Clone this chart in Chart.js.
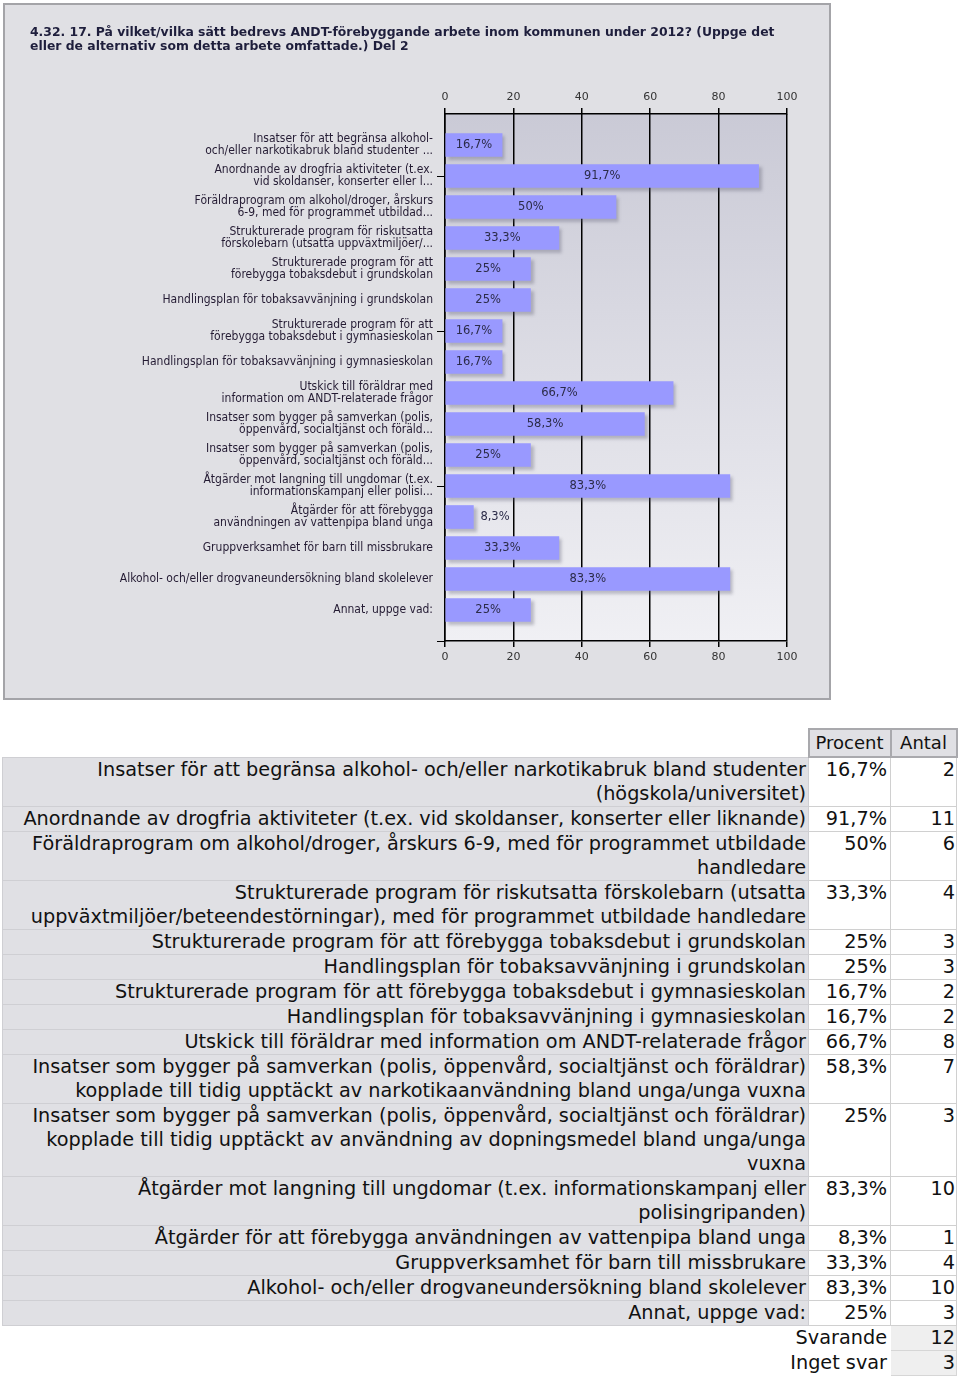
<!DOCTYPE html>
<html>
<head>
<meta charset="utf-8">
<title>ANDT-förebyggande arbete 2012, del 2</title>
<script src="https://cdn.jsdelivr.net/npm/chart.js@4.4.1/dist/chart.umd.min.js"></script>
<style>
    body { margin: 0; background: #fff; width: 960px; height: 1377px; position: relative; overflow: hidden; }
    #panel { position: absolute; left: 3px; top: 3px; width: 828px; height: 697px; box-sizing: border-box;
             border: 2px solid #a4a4a8; background: #e0e0e4; }
    #chart { display: block; }
    #tbl { position: absolute; left: 2px; top: 728px; width: 954px; table-layout: fixed;
           border-collapse: collapse;
           font-family: "DejaVu Sans", Verdana, sans-serif; font-size: 19.25px; line-height: 24px; color: #111; }
    #tbl td, #tbl th { padding: 0; white-space: nowrap; vertical-align: top; font-weight: normal; }
    #tbl th { background: #e0e0e4; border: 2px solid #a9a9ad; text-align: center; font-size: 18px; padding: 1px 0; }
    #tbl td.lab { background: #e0e0e4; border: 1px solid #cfcfd3; text-align: right; padding-right: 2px; }
    #tbl td.pct { background: #fff; border: 1px solid #d0d0d0; text-align: right; padding-right: 3px; }
    #tbl td.num { background: #fff; border: 1px solid #d0d0d0; text-align: right; padding-right: 1px; }
    #tbl td.foot { text-align: right; padding-right: 3px; border: 1px solid transparent; }
    #tbl td.fnum { background: #efefef; border: 1px solid #d6d6d6; text-align: right; padding-right: 1px; }
    #tbl td.blank { border: none; }
</style>
</head>
<body>
<div id="panel"><canvas id="chart" width="824" height="693"></canvas></div>
<table id="tbl"></table>

<script>
// Chart data
const titleLines = [
    '4.32. 17. På vilket/vilka sätt bedrevs ANDT-förebyggande arbete inom kommunen under 2012? (Uppge det',
    'eller de alternativ som detta arbete omfattade.) Del 2'
];

// Short labels as shown on the chart axis
const axisLabels = [
    ['Insatser för att begränsa alkohol-', 'och/eller narkotikabruk bland studenter ...'],
    ['Anordnande av drogfria aktiviteter (t.ex.', 'vid skoldanser, konserter eller l...'],
    ['Föräldraprogram om alkohol/droger, årskurs', '6-9, med för programmet utbildad...'],
    ['Strukturerade program för riskutsatta', 'förskolebarn (utsatta uppväxtmiljöer/...'],
    ['Strukturerade program för att', 'förebygga tobaksdebut i grundskolan'],
    'Handlingsplan för tobaksavvänjning i grundskolan',
    ['Strukturerade program för att', 'förebygga tobaksdebut i gymnasieskolan'],
    'Handlingsplan för tobaksavvänjning i gymnasieskolan',
    ['Utskick till föräldrar med', 'information om ANDT-relaterade frågor'],
    ['Insatser som bygger på samverkan (polis,', 'öppenvård, socialtjänst och föräld...'],
    ['Insatser som bygger på samverkan (polis,', 'öppenvård, socialtjänst och föräld...'],
    ['Åtgärder mot langning till ungdomar (t.ex.', 'informationskampanj eller polisi...'],
    ['Åtgärder för att förebygga', 'användningen av vattenpipa bland unga'],
    'Gruppverksamhet för barn till missbrukare',
    'Alkohol- och/eller drogvaneundersökning bland skolelever',
    'Annat, uppge vad:'
];

// Full labels for the table (line by line)
const tableLabels = [
    ['Insatser för att begränsa alkohol- och/eller narkotikabruk bland studenter', '(högskola/universitet)'],
    ['Anordnande av drogfria aktiviteter (t.ex. vid skoldanser, konserter eller liknande)'],
    ['Föräldraprogram om alkohol/droger, årskurs 6-9, med för programmet utbildade', 'handledare'],
    ['Strukturerade program för riskutsatta förskolebarn (utsatta', 'uppväxtmiljöer/beteendestörningar), med för programmet utbildade handledare'],
    ['Strukturerade program för att förebygga tobaksdebut i grundskolan'],
    ['Handlingsplan för tobaksavvänjning i grundskolan'],
    ['Strukturerade program för att förebygga tobaksdebut i gymnasieskolan'],
    ['Handlingsplan för tobaksavvänjning i gymnasieskolan'],
    ['Utskick till föräldrar med information om ANDT-relaterade frågor'],
    ['Insatser som bygger på samverkan (polis, öppenvård, socialtjänst och föräldrar)', 'kopplade till tidig upptäckt av narkotikaanvändning bland unga/unga vuxna'],
    ['Insatser som bygger på samverkan (polis, öppenvård, socialtjänst och föräldrar)', 'kopplade till tidig upptäckt av användning av dopningsmedel bland unga/unga', 'vuxna'],
    ['Åtgärder mot langning till ungdomar (t.ex. informationskampanj eller', 'polisingripanden)'],
    ['Åtgärder för att förebygga användningen av vattenpipa bland unga'],
    ['Gruppverksamhet för barn till missbrukare'],
    ['Alkohol- och/eller drogvaneundersökning bland skolelever'],
    ['Annat, uppge vad:']
];

const percentValues = [16.7, 91.7, 50, 33.3, 25, 25, 16.7, 16.7, 66.7, 58.3, 25, 83.3, 8.3, 33.3, 83.3, 25];
const counts = [2, 11, 6, 4, 3, 3, 2, 2, 8, 7, 3, 10, 1, 4, 10, 3];
const totalNames = ['Svarande', 'Inget svar'];
const totalCounts = [12, 3];

const xMin = 0, xMax = 100, xStep = 20;

const fmtPct = v => String(v).replace('.', ',') + '%';

// Plot background gradient
const plotBg = {
    id: 'plotBg',
    beforeDraw(chart) {
        const { ctx, chartArea: { left, top, right, bottom } } = chart;
        const g = ctx.createLinearGradient(0, top, 0, bottom);
        g.addColorStop(0, '#cacad6');
        g.addColorStop(1, '#f0f0f4');
        ctx.save();
        ctx.fillStyle = g;
        ctx.fillRect(left, top, right - left, bottom - top);
        ctx.restore();
    }
};

// Soft drop shadow on the bars
const barShadow = {
    id: 'barShadow',
    beforeDatasetsDraw(chart) {
        const c = chart.ctx;
        c.save();
        c.shadowColor = 'rgba(90, 90, 110, 0.35)';
        c.shadowOffsetX = 3;
        c.shadowOffsetY = 3;
        c.shadowBlur = 3;
    },
    afterDatasetsDraw(chart) {
        chart.ctx.restore();
    }
};

// Percent labels inside (or beside) the bars
const valueLabels = {
    id: 'valueLabels',
    afterDatasetsDraw(chart) {
        const ctx = chart.ctx;
        const meta = chart.getDatasetMeta(0);
        ctx.save();
        ctx.font = '11.5px "DejaVu Sans", Verdana, sans-serif';
        ctx.fillStyle = '#2b2b48';
        ctx.textBaseline = 'middle';
        meta.data.forEach((bar, i) => {
            const text = fmtPct(percentValues[i]);
            const w = ctx.measureText(text).width;
            if (bar.x - bar.base > w + 10) {
                ctx.textAlign = 'center';
                ctx.fillText(text, (bar.x + bar.base) / 2, bar.y);
            } else {
                ctx.textAlign = 'left';
                ctx.fillText(text, bar.x + 7, bar.y);
            }
        });
        ctx.restore();
    }
};

const tickFont = { family: '"DejaVu Sans", Verdana, sans-serif', size: 11 };

new Chart(document.getElementById('chart'), {
    type: 'bar',
    data: {
        datasets: [{
            data: percentValues.map((v, i) => ({ x: v, y: i })),
            backgroundColor: '#9999ff',
            borderWidth: 0,
            barThickness: 23
        }]
    },
    options: {
        indexAxis: 'y',
        responsive: false,
        animation: false,
        devicePixelRatio: 1,
        layout: { padding: { left: 25, right: 42, top: 0, bottom: 0 } },
        plugins: {
            legend: { display: false },
            tooltip: { enabled: false },
            title: {
                display: true,
                text: titleLines,
                align: 'start',
                color: '#1e1e3c',
                font: { family: '"DejaVu Sans", Verdana, sans-serif', size: 12.4, weight: 'bold', lineHeight: '14px' },
                padding: { top: 21, bottom: 0 }
            }
        },
        scales: {
            x: {
                type: 'linear', position: 'bottom', min: xMin, max: xMax,
                ticks: { stepSize: xStep, color: '#333', font: tickFont, padding: 4 },
                grid: { color: '#000', lineWidth: 1.5, tickLength: 6 },
                border: { color: '#000', width: 1.5 },
                afterFit(s) { s.height = 57; }
            },
            x2: {
                type: 'linear', position: 'top', min: xMin, max: xMax,
                ticks: { stepSize: xStep, color: '#333', font: tickFont, padding: 4 },
                grid: { drawOnChartArea: false, color: '#000', lineWidth: 1.5, tickLength: 6 },
                border: { color: '#000', width: 1.5 },
                afterFit(s) { s.height = 60; }
            },
            y: {
                type: 'linear', min: -1, max: axisLabels.length, reverse: true, offset: false,
                ticks: {
                    stepSize: 1, autoSkip: false, padding: 4, color: '#241b33',
                    font: { family: '"DejaVu Sans Condensed", "Liberation Sans Narrow", sans-serif', size: 12, lineHeight: '12px' },
                    callback: v => axisLabels[v] ?? ''
                },
                grid: {
                    offset: false, drawOnChartArea: false, tickLength: 8, lineWidth: 1,
                    color: c => (c.tick && c.tick.value % 5 === 1) ? '#000' : 'rgba(0,0,0,0)'
                },
                border: { color: '#000', width: 1.5 },
                afterFit(s) { s.width = 415; }
            }
        }
    },
    plugins: [plotBg, barShadow, valueLabels]
});

// Table below the chart
const tbl = document.getElementById('tbl');
let html = '<colgroup><col style="width:806px"><col style="width:82px"><col style="width:66px"></colgroup>';
html += '<tr><td class="blank"></td><th>Procent</th><th>Antal</th></tr>';
tableLabels.forEach((lines, i) => {
    html += `<tr><td class="lab">${lines.join('<br>')}</td><td class="pct">${fmtPct(percentValues[i])}</td><td class="num">${counts[i]}</td></tr>`;
});
totalNames.forEach((name, i) => {
    html += `<tr><td colspan="2" class="foot">${name}</td><td class="fnum">${totalCounts[i]}</td></tr>`;
});
tbl.innerHTML = html;
</script>
</body>
</html>
